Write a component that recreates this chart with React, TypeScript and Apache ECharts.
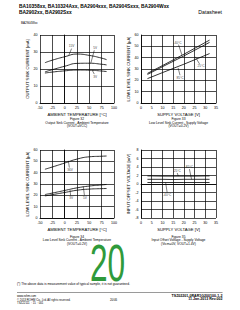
import React, { useEffect, useRef } from "react";
import * as echarts from "echarts";

const FONT = "Liberation Sans, Arial, sans-serif";

// ---- Figure 32: Output sink current vs ambient temperature ----
const temp1 = [-40, -25, 0, 25, 50, 75, 85];
const sink15V = [23.7, 25.2, 27.2, 28.8, 28.0, 26.4, 25.5];
const sink5V = [18.3, 19.6, 21.6, 23.3, 23.4, 22.8, 22.4];
const sink3V = [17.6, 18.2, 18.9, 19.4, 19.3, 18.8, 18.5];

// ---- Figure 33: Low level sink current vs supply voltage ----
const volt2 = [3, 10, 20, 32];
const lowM40 = [26.1, 33.0, 43.0, 55.5];
const low25 = [25.2, 32.0, 41.5, 53.5];
const low85 = [21.5, 26.8, 34.2, 43.6];

// ---- Figure 34: Low level sink current vs ambient temperature ----
const temp3 = [-40, -25, 0, 25, 50, 75, 85];
const low36V = [43.0, 45.0, 48.5, 52.0, 54.0, 54.5, 54.7];
const low5V = [20.7, 22.0, 24.3, 26.6, 28.2, 29.2, 29.6];
const low3V = [19.5, 20.6, 22.5, 24.5, 25.5, 25.9, 26.0];

// ---- Figure 35: Input offset voltage vs supply voltage ----
const volt4 = [3, 5, 10, 15, 20, 25, 30, 32];
const vio25 = [1.9, 1.9, 1.85, 1.85, 1.85, 1.85, 1.9, 1.9];
const vio85 = [1.1, 1.1, 1.1, 1.05, 1.1, 1.1, 1.1, 1.1];
const vioM40 = [0.35, 0.35, 0.35, 0.35, 0.35, 0.35, 0.35, 0.35];

// annotation labels: text, label point, leader end (data coordinates)
const ann1 = [
  { text: "15V", at: [14, 33.5], from: [14, 32], to: [8, 27.8] },
  { text: "5V", at: [62, 32.5], from: [60, 31], to: [53, 23.4] },
  { text: "3V", at: [62, 15.5], from: [60, 17], to: [56, 19.2] },
];
const ann2 = [
  { text: "-40°C", at: [17, 53.5], from: [17.5, 51.5], to: [19.1, 42.3] },
  { text: "25°C", at: [28, 32.5], from: [27.3, 34.5], to: [25.3, 40.8] },
  { text: "85°C", at: [18.2, 22.5], from: [18.2, 24.5], to: [17.3, 31] },
];
const ann3 = [
  { text: "36V", at: [11, 42.5], from: [9.5, 44.5], to: [7.5, 50.5] },
  { text: "3V", at: [13, 18], from: [12, 20], to: [10.8, 24.8] },
  { text: "5V", at: [41.3, 18], from: [40, 20], to: [37.8, 27.8] },
];
const ann4 = [
  { text: "25°C", at: [16.9, 3.1], from: [16.9, 2.6], to: [17.4, 1.88] },
  { text: "85°C", at: [22.6, 4.0], from: [22.6, 3.5], to: [23.6, 1.1] },
  { text: "-40°C", at: [12.2, -2.6], from: [12.2, -2.0], to: [11.5, 0.35] },
];

const figTitles = [
  ["Figure 32", "Output Sink Current - Ambient Temperature", "(VOUT=VCC)"],
  ["Figure 33", "Low Level Sink Current - Supply Voltage", "(VOUT=0.2V)"],
  ["Figure 34", "Low Level Sink Current - Ambient Temperature", "(VOUT=0.2V)"],
  ["Figure 35", "Input Offset Voltage - Supply Voltage", "(Vicm=0V, VOUT=1.4V)"],
];

const grids = [
  { left: 40, top: 35, width: 74, height: 68 },
  { left: 141, top: 35, width: 75, height: 68 },
  { left: 40, top: 150, width: 74, height: 68 },
  { left: 141, top: 150, width: 75, height: 68 },
];

const lineStyle = { color: "#000", width: 0.8 };
const gridLine = { show: true, lineStyle: { color: "#000", width: 0.7 } };

function xAxis(i: number, min: number, max: number, interval: number, name: string) {
  return {
    type: "value",
    gridIndex: i,
    min,
    max,
    interval,
    name,
    nameLocation: "middle",
    nameGap: 9,
    nameTextStyle: { fontSize: 4.2, color: "#000", fontFamily: FONT },
    axisLine: { show: true, lineStyle: { color: "#000", width: 0.8 } },
    axisTick: { show: false },
    axisLabel: { fontSize: 3.6, color: "#000", margin: 2.5, fontFamily: FONT, showMinLabel: true, showMaxLabel: true },
    splitLine: gridLine,
  };
}
function yAxis(i: number, min: number, max: number, interval: number, name: string) {
  return {
    type: "value",
    gridIndex: i,
    min,
    max,
    interval,
    name,
    nameLocation: "middle",
    nameGap: 11,
    nameTextStyle: { fontSize: 4.2, color: "#000", fontFamily: FONT },
    axisLine: { show: true, lineStyle: { color: "#000", width: 0.8 } },
    axisTick: { show: false },
    axisLabel: { fontSize: 3.6, color: "#000", margin: 2.5, fontFamily: FONT, showMinLabel: true, showMaxLabel: true },
    splitLine: gridLine,
  };
}

function curve(i: number, xs: number[], ys: number[], smooth: boolean) {
  return {
    type: "line",
    xAxisIndex: i,
    yAxisIndex: i,
    data: xs.map((x, k) => [x, ys[k]]),
    symbol: "none",
    smooth,
    lineStyle,
    silent: true,
  };
}

function annotations(i: number, list: { text: string; at: number[]; from: number[]; to: number[] }[]) {
  return {
    type: "scatter",
    xAxisIndex: i,
    yAxisIndex: i,
    symbolSize: 0,
    silent: true,
    data: list.map((a) => ({ value: a.at, name: a.text })),
    label: {
      show: true,
      position: "inside",
      formatter: "{b}",
      fontSize: 3.2,
      color: "#000",
      fontFamily: FONT,
    },
    markLine: {
      silent: true,
      symbol: "none",
      label: { show: false },
      lineStyle: { color: "#000", width: 0.5, type: "solid" },
      data: list.map((a) => [{ coord: a.from }, { coord: a.to }]),
    },
  };
}

export default function App() {
  const ref = useRef<HTMLDivElement>(null);
  useEffect(() => {
    if (!ref.current) return;
    const chart = echarts.init(ref.current, null, { renderer: "svg" });

    const captions: any[] = [];
    const capPos = [
      [77, 119],
      [178.5, 119],
      [77, 236.5],
      [178.5, 236.5],
    ];
    figTitles.forEach((lines, k) => {
      lines.forEach((t, j) => {
        captions.push({
          type: "text",
          x: capPos[k][0],
          y: capPos[k][1] + j * 3.6,
          style: { text: t, fontSize: 3.3, fill: "#000", align: "center", verticalAlign: "middle", fontFamily: FONT },
        });
      });
    });

    const txt = (x: number, y: number, text: string, size: number, extra: any = {}) => ({
      type: "text",
      x,
      y,
      style: { text, fontSize: size, fill: "#000", verticalAlign: "middle", fontFamily: FONT, ...extra },
    });

    chart.setOption({
      animation: false,
      backgroundColor: "#fff",
      grid: grids.map((g) => ({ ...g, containLabel: false })),
      xAxis: [
        xAxis(0, -50, 100, 25, "AMBIENT TEMPERATURE [°C]"),
        xAxis(1, 0, 35, 5, "SUPPLY VOLTAGE [V]"),
        xAxis(2, -50, 100, 25, "AMBIENT TEMPERATURE [°C]"),
        xAxis(3, 0, 35, 5, "SUPPLY VOLTAGE [V]"),
      ],
      yAxis: [
        yAxis(0, 0, 40, 10, "OUTPUT SINK CURRENT [mA]"),
        yAxis(1, 0, 60, 10, "LOW LEVEL SINK CURRENT [µA]"),
        yAxis(2, 0, 60, 10, "LOW LEVEL SINK CURRENT [µA]"),
        yAxis(3, -8, 8, 2, "INPUT OFFSET VOLTAGE [mV]"),
      ],
      series: [
        curve(0, temp1, sink15V, true),
        curve(0, temp1, sink5V, true),
        curve(0, temp1, sink3V, true),
        annotations(0, ann1),
        curve(1, volt2, lowM40, false),
        curve(1, volt2, low25, false),
        curve(1, volt2, low85, false),
        annotations(1, ann2),
        curve(2, temp3, low36V, true),
        curve(2, temp3, low5V, true),
        curve(2, temp3, low3V, true),
        annotations(2, ann3),
        curve(3, volt4, vio25, false),
        curve(3, volt4, vio85, false),
        curve(3, volt4, vioM40, false),
        annotations(3, ann4),
      ],
      graphic: [
        txt(19, 6.8, "BA10358xx, BA10324Axx, BA2904xxx, BA2904Sxxx, BA2904Wxx", 4.9, { fontWeight: "bold" }),
        txt(19, 12.3, "BA2902xx, BA2902Sxx", 4.9, { fontWeight: "bold" }),
        txt(222, 12.3, "Datasheet", 5.2, { align: "right" }),
        txt(21, 23, "BA2904Wxx", 3, {}),
        ...captions,
        {
          type: "text",
          x: 107.5,
          y: 264,
          scaleX: 0.62,
          style: {
            text: "20",
            x: 0,
            y: 0,
            fontSize: 51,
            fill: "#2f9a3b",
            align: "center",
            verticalAlign: "middle",
            fontFamily: FONT,
          },
        },
        txt(17, 283.5, "(*) The above data is measurement value of typical sample, it is not guaranteed.", 3.2),
        {
          type: "line",
          shape: { x1: 17, y1: 292.5, x2: 222.5, y2: 292.5 },
          style: { stroke: "#555", lineWidth: 0.6 },
        },
        txt(17, 296, "www.rohm.com", 2.8),
        txt(17, 299.2, "© 2013 ROHM Co., Ltd. All rights reserved.", 2.8),
        txt(17, 302.4, "TSZ22111・15・001", 2.8),
        txt(113.5, 299.5, "20/46", 2.8, { align: "center" }),
        txt(222.5, 295.6, "TSZ02201-0RAR1G200100-1-2", 3.6, { align: "right", fontWeight: "bold" }),
        txt(222.5, 299.4, "11.Jan.2013 Rev.002", 3.6, { align: "right", fontWeight: "bold" }),
      ],
    });
    return () => chart.dispose();
  }, []);
  return (
    <div
      ref={ref}
      style={{ position: "fixed", left: 0, top: 0, width: 240, height: 310, background: "#fff" }}
    />
  );
}
